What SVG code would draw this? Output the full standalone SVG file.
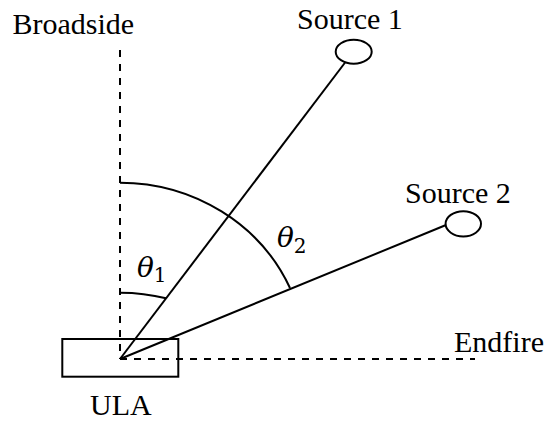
<svg xmlns="http://www.w3.org/2000/svg" width="551" height="423" viewBox="0 0 551 423">
<style>
.lbl{font-family:'Liberation Serif','Times New Roman','DejaVu Serif',serif;font-size:30px;fill:#000}
.sym{font-family:'DejaVu Serif',serif;font-style:italic;font-size:28px;fill:#000}
.sub{font-family:'DejaVu Serif',serif;font-style:normal;font-size:20px}
.ln{stroke:#000;stroke-width:2;fill:none}
.dash{stroke:#000;stroke-width:2;fill:none;stroke-dasharray:7 7}
.shape{stroke:#000;stroke-width:2;fill:#fff}
</style>
<rect width="551" height="423" fill="#fff"/>
<g id="connectors">
<line class="dash" x1="120" y1="50" x2="120" y2="359"/>
<line class="dash" x1="120" y1="359" x2="475" y2="359"/>
<line class="ln" x1="120" y1="359" x2="345.5" y2="62"/>
<line class="ln" x1="120" y1="359" x2="446" y2="225"/>
<path class="ln" d="M120,292.7 A114,66.3 0 0 1 166,298.3"/>
<path class="ln" d="M120,182.7 A186,176 0 0 1 290,288"/>
</g>
<g id="ula">
<rect x="62.3" y="339" width="116" height="37.7" fill="none" stroke="#000" stroke-width="2"/>
<text class="lbl" x="90" y="415">ULA</text>
</g>
<g id="source1">
<ellipse class="shape" cx="353.7" cy="51.7" rx="18" ry="12"/>
<text class="lbl" x="297" y="28.5">Source 1</text>
</g>
<g id="source2">
<ellipse class="shape" cx="463.3" cy="223.8" rx="17.7" ry="12.6"/>
<text class="lbl" x="405" y="202.5">Source 2</text>
</g>
<g id="broadside">
<text class="lbl" x="12.5" y="34.3">Broadside</text>
</g>
<g id="endfire">
<text class="lbl" x="454" y="351.5">Endfire</text>
</g>
<g id="theta1">
<text class="sym" x="137" y="277.3">θ<tspan class="sub" dy="5">1</tspan></text>
</g>
<g id="theta2">
<text class="sym" x="277" y="247.3">θ<tspan class="sub" dy="6">2</tspan></text>
</g>
</svg>
